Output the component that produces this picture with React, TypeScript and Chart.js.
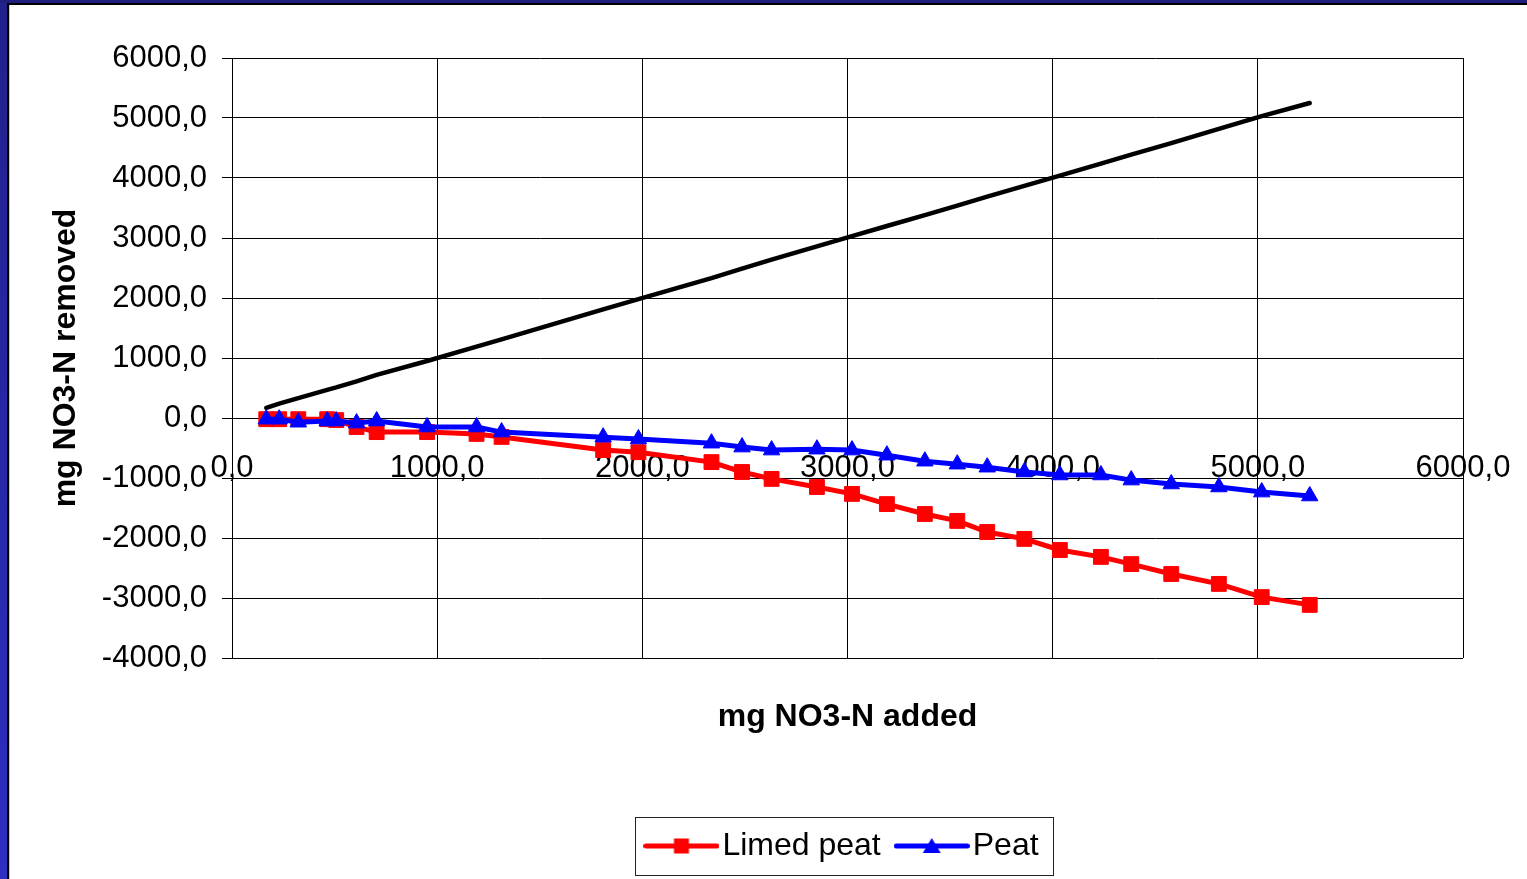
import { useEffect, useRef } from 'react';
import { Chart, registerables } from 'chart.js';

Chart.register(...registerables);

// mg NO3-N added (x values shared by all series)
const nAdded = [167, 230, 323, 464, 508, 607, 705, 951, 1192, 1314, 1809, 1981, 2337, 2486, 2630, 2851, 3022, 3192, 3377, 3535, 3681, 3862, 4035, 4235, 4383, 4578, 4810, 5019, 5253];
// mg NO3-N removed
const limedPeatRemoved = [-20, -20, -20, -20, -35, -150, -235, -235, -265, -315, -535, -570, -735, -900, -1015, -1150, -1265, -1435, -1600, -1715, -1900, -2015, -2200, -2315, -2435, -2600, -2765, -2985, -3115];
const peatRemoved = [-20, -20, -70, -50, -50, -85, -50, -150, -150, -235, -320, -350, -420, -485, -535, -520, -535, -620, -720, -770, -820, -900, -950, -950, -1035, -1100, -1150, -1235, -1300];
const referenceRemoved = [170, 240, 330, 470, 510, 610, 720, 950, 1190, 1310, 1810, 1980, 2330, 2490, 2640, 2860, 3030, 3200, 3380, 3540, 3690, 3870, 4040, 4240, 4390, 4580, 4820, 5030, 5250];

const seriesNames = ['Limed peat', 'Peat'];
const xTickLabels = ['0,0', '1000,0', '2000,0', '3000,0', '4000,0', '5000,0', '6000,0'];
const yTickLabels = ['-4000,0', '-3000,0', '-2000,0', '-1000,0', '0,0', '1000,0', '2000,0', '3000,0', '4000,0', '5000,0', '6000,0'];
const xTitle = 'mg NO3-N added';
const yTitle = 'mg NO3-N removed';

const FONT = '"Liberation Sans", Arial, Helvetica, sans-serif';

function makeSymbol(color: string, shape: 'rect' | 'triangle') {
  const c = document.createElement('canvas');
  c.width = 76;
  c.height = 22;
  const ctx = c.getContext('2d')!;
  ctx.strokeStyle = color;
  ctx.lineWidth = 5;
  ctx.lineCap = 'round';
  ctx.beginPath();
  ctx.moveTo(2.5, 11);
  ctx.lineTo(73.5, 11);
  ctx.stroke();
  ctx.fillStyle = color;
  if (shape === 'rect') {
    ctx.fillRect(30.5, 3.5, 15, 15);
  } else {
    ctx.beginPath();
    ctx.moveTo(38, 3);
    ctx.lineTo(47, 18);
    ctx.lineTo(29, 18);
    ctx.closePath();
    ctx.fill();
  }
  return c;
}

const legendBorder = {
  id: 'legendBorder',
  afterDraw(chart: any) {
    const lg = chart.legend;
    if (!lg || !lg.legendHitBoxes || lg.legendHitBoxes.length < 2) return;
    const hb = lg.legendHitBoxes;
    const first = hb[0];
    const last = hb[hb.length - 1];
    const cy = first.top + first.height / 2;
    const left = Math.round(first.left - 21) + 0.5;
    const right = Math.round(last.left + last.width + 14) + 0.5;
    const top = Math.round(cy - 29) + 0.5;
    const bottom = Math.round(cy + 29) + 0.5;
    const ctx = chart.ctx;
    ctx.save();
    ctx.strokeStyle = '#222';
    ctx.lineWidth = 1;
    ctx.strokeRect(left, top, right - left, bottom - top);
    ctx.restore();
  },
};

export default function App() {
  const ref = useRef<HTMLCanvasElement | null>(null);

  useEffect(() => {
    document.body.style.margin = '0';
    if (!ref.current) return;
    const redSym = makeSymbol('#ff0000', 'rect');
    const blueSym = makeSymbol('#0000ff', 'triangle');

    const chart = new Chart(ref.current, {
      type: 'line',
      data: {
        datasets: [
          {
            label: seriesNames[0],
            data: nAdded.map((x, i) => ({ x, y: limedPeatRemoved[i] })),
            borderColor: '#ff0000',
            backgroundColor: '#ff0000',
            borderWidth: 5,
            pointStyle: 'rect',
            pointRadius: 10.5,
            pointBorderWidth: 1,
            pointBackgroundColor: '#ff0000',
            pointBorderColor: '#ff0000',
            tension: 0,
            order: 2,
          },
          {
            label: seriesNames[1],
            data: nAdded.map((x, i) => ({ x, y: peatRemoved[i] })),
            borderColor: '#0000ff',
            backgroundColor: '#0000ff',
            borderWidth: 5,
            pointStyle: 'triangle',
            pointRadius: 9.5,
            pointBorderWidth: 1,
            pointBackgroundColor: '#0000ff',
            pointBorderColor: '#0000ff',
            tension: 0,
            order: 1,
          },
          {
            label: 'reference',
            data: nAdded.map((x, i) => ({ x, y: referenceRemoved[i] })),
            borderColor: '#000000',
            backgroundColor: '#000000',
            borderWidth: 4.5,
            borderCapStyle: 'round',
            pointRadius: 0,
            tension: 0,
            order: 3,
          },
        ],
      },
      options: {
        animation: false,
        responsive: false,
        maintainAspectRatio: false,
        layout: { padding: { left: 0, top: 58, right: 64, bottom: 7 } },
        plugins: {
          tooltip: { enabled: false },
          legend: {
            display: true,
            position: 'bottom',
            fullSize: false,
            labels: {
              usePointStyle: true,
              pointStyleWidth: 50,
              padding: 26,
              color: '#000',
              font: { family: FONT, size: 32 },
              generateLabels: () => [
                { text: seriesNames[0], pointStyle: redSym, fillStyle: '#ff0000', strokeStyle: '#ff0000', lineWidth: 0, hidden: false, datasetIndex: 0, fontColor: '#000' },
                { text: seriesNames[1], pointStyle: blueSym, fillStyle: '#0000ff', strokeStyle: '#0000ff', lineWidth: 0, hidden: false, datasetIndex: 1, fontColor: '#000' },
              ] as any,
            },
          },
        },
        scales: {
          x: {
            type: 'linear',
            position: { y: 0 } as any,
            min: 0,
            max: 6000,
            ticks: {
              stepSize: 1000,
              autoSkip: false,
              maxRotation: 0,
              padding: 32,
              color: '#000',
              font: { family: FONT, size: 31 },
              callback: (_v: any, i: number) => xTickLabels[i],
            },
            grid: { color: '#000', lineWidth: 1, drawTicks: false },
            border: { color: '#000', width: 1 },
            afterFit: (s: any) => {
              s.paddingLeft = 0;
              s.paddingRight = 0;
            },
          },
          x2: {
            type: 'linear',
            position: 'bottom',
            display: true,
            min: 0,
            max: 1,
            ticks: { display: false },
            grid: { display: false, drawTicks: false, tickLength: 0 },
            border: { display: false },
            title: {
              display: true,
              text: xTitle,
              color: '#000',
              font: { family: FONT, size: 32, weight: 'bold' },
              padding: { top: 0, bottom: 68 },
            },
            afterFit: (s: any) => {
              s.height = 146;
              s.paddingLeft = 0;
              s.paddingRight = 0;
            },
          },
          y: {
            type: 'linear',
            position: 'left',
            min: -4000,
            max: 6000,
            ticks: {
              stepSize: 1000,
              autoSkip: false,
              padding: 15,
              color: '#000',
              font: { family: FONT, size: 31 },
              callback: (_v: any, i: number) => yTickLabels[i],
            },
            grid: { color: '#000', lineWidth: 1, drawTicks: true, tickLength: 10 },
            border: { color: '#000', width: 1 },
            title: {
              display: true,
              text: yTitle,
              color: '#000',
              font: { family: FONT, size: 32, weight: 'bold' },
              padding: { top: 47, bottom: 0 },
            },
            afterFit: (s: any) => {
              s.width = 232;
              s.paddingTop = 0;
              s.paddingBottom = 0;
            },
          },
        },
      } as any,
      plugins: [legendBorder],
    });
    return () => chart.destroy();
  }, []);

  return (
    <div style={{ position: 'relative', width: 1527, height: 879, background: '#fff', overflow: 'hidden' }}>
      <canvas ref={ref} width={1527} height={879} style={{ position: 'absolute', left: 0, top: 0, width: 1527, height: 879, display: 'block' }} />
      <div style={{ position: 'absolute', left: 0, top: 0, width: 7, height: 879, background: 'linear-gradient(#21218c, #2e2ec2)' }} />
      <div style={{ position: 'absolute', left: 7, top: 3, width: 2, height: 876, background: '#000' }} />
      <div style={{ position: 'absolute', left: 9, top: 5, width: 1, height: 874, background: '#c8c8c8' }} />
      <div style={{ position: 'absolute', left: 0, top: 0, width: 1527, height: 3, background: '#1f1f7c' }} />
      <div style={{ position: 'absolute', left: 7, top: 3, width: 1520, height: 2, background: '#000' }} />
    </div>
  );
}
